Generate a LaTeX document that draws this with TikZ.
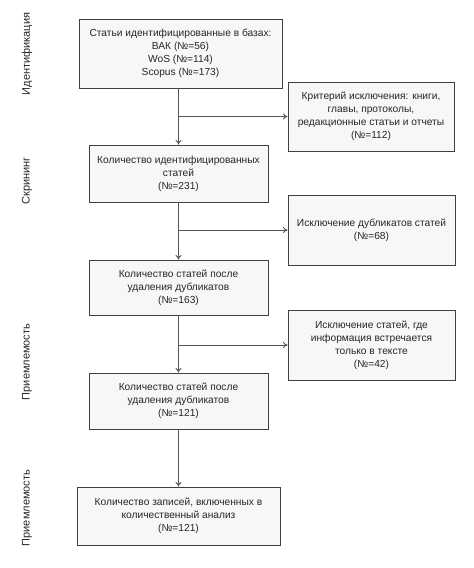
\documentclass[tikz,border=0pt]{standalone}
\usepackage{fontspec}
\setmainfont{Liberation Sans}
\usetikzlibrary{arrows.meta}
\definecolor{boxfill}{HTML}{F7F7F7}
\definecolor{boxline}{HTML}{404040}
\definecolor{arrline}{HTML}{555555}
\begin{document}
\begin{tikzpicture}[x=1pt,y=-1pt,
  box/.style={draw=boxline,line width=0.9pt,fill=boxfill,align=center,inner sep=2pt,
    font=\fontsize{10.2}{13}\selectfont,text=black!85},
  arr/.style={draw=arrline,line width=0.9pt,-{To[length=4.5pt,width=6pt]}},
  side/.style={rotate=90,font=\fontsize{11}{12}\selectfont,text=black!85}]
\useasboundingbox (0,0) rectangle (474,568);
\node[box,minimum width=203pt,minimum height=69pt] (b1) at (180.5,53.5)
  {Статьи идентифицированные в базах:\\ВАК (№=56)\\WoS (№=114)\\Scopus (№=173)};
\node[box,minimum width=166pt,minimum height=69pt] (b2) at (371,116.5)
  {Критерий исключения: книги,\\главы, протоколы,\\редакционные статьи и отчеты\\(№=112)};
\node[box,minimum width=179pt,minimum height=57pt] (b3) at (178.5,173.5)
  {Количество идентифицированных\\статей\\(№=231)};
\node[box,minimum width=167pt,minimum height=70pt] (b4) at (371.5,230)
  {Исключение дубликатов статей\\(№=68)};
\node[box,minimum width=179pt,minimum height=55pt] (b5) at (178.5,287.5)
  {Количество статей после\\удаления дубликатов\\(№=163)};
\node[box,minimum width=167pt,minimum height=70pt] (b6) at (371.5,345)
  {Исключение статей, где\\информация встречается\\только в тексте\\(№=42)};
\node[box,minimum width=179pt,minimum height=56pt] (b7) at (178.5,401)
  {Количество статей после\\удаления дубликатов\\(№=121)};
\node[box,minimum width=203pt,minimum height=58pt] (b8) at (178.5,516)
  {Количество записей, включенных в\\количественный анализ\\(№=121)};
\node[side] (s1) at (27,54) {Идентификация};
\node[side] (s2) at (27,181) {Скрининг};
\node[side] (s3) at (27,362) {Приемлемость};
\node[side] (s4) at (27,508) {Приемлемость};
\coordinate (j1) at (b3.north |- b2.west);
\coordinate (j2) at (b3.north |- b4.west);
\coordinate (j3) at (b3.north |- b6.west);
\draw[arr] (b1.south -| b3.north) -- (b3.north);
\draw[arr] (j1) -- (b2.west);
\draw[arr] (b3.south) -- (b5.north);
\draw[arr] (j2) -- (b4.west);
\draw[arr] (b5.south) -- (b7.north);
\draw[arr] (j3) -- (b6.west);
\draw[arr] (b7.south) -- (b8.north);
\end{tikzpicture}
\end{document}
